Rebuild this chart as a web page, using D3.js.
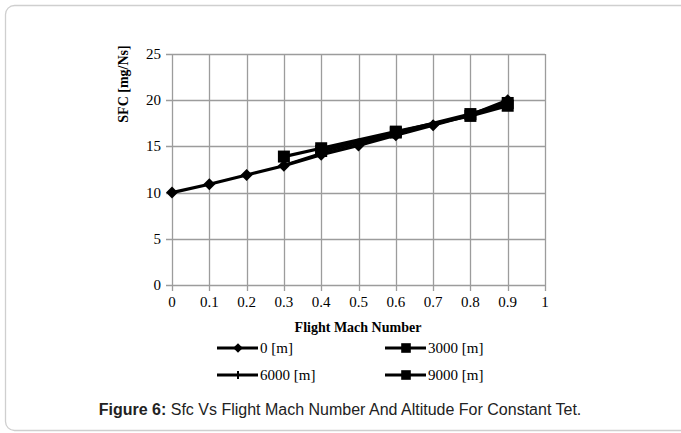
<!DOCTYPE html>
<html><head><meta charset="utf-8">
<script src="https://cdn.jsdelivr.net/npm/d3@7"></script>
<style>body{margin:0;background:#fff}</style>
</head><body><svg id="c" width="681" height="433"></svg>
<script>
const xTicks = [0,0.1,0.2,0.3,0.4,0.5,0.6,0.7,0.8,0.9,1];
const yTicks = [0,5,10,15,20,25];
const mach0 = [0,0.1,0.2,0.3,0.4,0.5,0.6,0.7,0.8,0.9];
const sfc0 = [10,10.9,11.9,12.9,14.1,15.1,16.2,17.3,18.4,20.0];
const mach3000 = [0.4,0.6,0.8,0.9];
const sfc3000 = [14.5,16.5,18.5,19.7];
const mach6000 = [0.3,0.4,0.5,0.6,0.7,0.8,0.9];
const sfc6000 = [13.0,14.3,15.3,16.4,17.3,18.4,19.7];
const mach9000 = [0.3,0.4,0.6,0.8,0.9];
const sfc9000 = [13.9,14.8,16.6,18.3,19.4];
const seriesNames = ["0 [m]","3000 [m]","6000 [m]","9000 [m]"];

const svg = d3.select("#c");
svg.append("rect").attr("x",5.5).attr("y",5.5).attr("width",700).attr("height",425)
  .attr("rx",9).attr("fill","none").attr("stroke","#cfcfcf").attr("stroke-width",1.3);

const x = d3.scaleLinear().domain([0,1]).range([172,545]);
const y = d3.scaleLinear().domain([0,25]).range([285,54]);

const g = svg.append("g");
g.selectAll(".vg").data(xTicks).join("line")
  .attr("x1",d=>Math.round(x(d))+0.5).attr("x2",d=>Math.round(x(d))+0.5)
  .attr("y1",y(25)).attr("y2",y(0)+6).attr("stroke","#9c9c9c").attr("stroke-width",1.3);
g.selectAll(".hg").data(yTicks).join("line")
  .attr("y1",d=>Math.round(y(d))+0.5).attr("y2",d=>Math.round(y(d))+0.5)
  .attr("x1",x(0)-6).attr("x2",x(1)).attr("stroke","#9c9c9c").attr("stroke-width",1.3);

const serif = "'Liberation Serif','Times New Roman',serif";
g.selectAll(".xl").data(xTicks).join("text")
  .attr("x",d=>x(d)).attr("y",307).attr("text-anchor","middle")
  .attr("font-family",serif).attr("font-size",15).text(d=>d);
g.selectAll(".yl").data(yTicks).join("text")
  .attr("x",161).attr("y",d=>y(d)+5).attr("text-anchor","end")
  .attr("font-family",serif).attr("font-size",15).text(d=>d);

svg.append("text").attr("x",358).attr("y",332).attr("text-anchor","middle")
  .attr("font-family",serif).attr("font-weight","bold").attr("font-size",14).text("Flight Mach Number");
svg.append("text").attr("transform","translate(128,84) rotate(-90)").attr("text-anchor","middle")
  .attr("font-family",serif).attr("font-weight","bold").attr("font-size",14).text("SFC [mg/Ns]");

const line = d3.line().x(d=>x(d[0])).y(d=>y(d[1]));
const data = [
  d3.zip(mach0,sfc0), d3.zip(mach3000,sfc3000), d3.zip(mach6000,sfc6000), d3.zip(mach9000,sfc9000)
];
const dia = r => `M0,${-r}L${r},0L0,${r}L${-r},0Z`;
function marker(sel,i,s){
  if(i===0) sel.append("path").attr("d",dia(6*s)).attr("fill","#000");
  else if(i===2) sel.append("rect").attr("x",-1).attr("y",-5*s).attr("width",2).attr("height",10*s).attr("fill","#000");
  else sel.append("rect").attr("x",-6*s).attr("y",-6*s).attr("width",12*s).attr("height",12*s).attr("fill","#000");
}
data.forEach((d,i)=>{
  g.append("path").datum(d).attr("d",line).attr("fill","none").attr("stroke","#000").attr("stroke-width",i===2?2:3.2);
});
data.forEach((d,i)=>{
  g.selectAll(null).data(d).join("g").attr("transform",p=>`translate(${x(p[0])},${y(p[1])})`)
   .each(function(){ marker(d3.select(this),i,1); });
});

const legPos = [[217,348],[385,348],[217,375],[385,375]];
seriesNames.forEach((n,i)=>{
  const [lx,ly] = legPos[i];
  const lg = svg.append("g");
  lg.append("line").attr("x1",lx).attr("x2",lx+41).attr("y1",ly).attr("y2",ly).attr("stroke","#000").attr("stroke-width",3);
  marker(lg.append("g").attr("transform",`translate(${lx+21},${ly})`), i, 0.8);
  lg.append("text").attr("x",lx+43).attr("y",ly+5).attr("font-family",serif).attr("font-size",15).text(n);
});

const cap = svg.append("text").attr("x",340).attr("y",415).attr("text-anchor","middle")
  .attr("font-family","'Liberation Sans',Arial,sans-serif").attr("font-size",16).attr("fill","#222");
cap.append("tspan").attr("font-weight","bold").text("Figure 6:");
cap.append("tspan").text(" Sfc Vs Flight Mach Number And Altitude For Constant Tet.");
</script></body></html>
